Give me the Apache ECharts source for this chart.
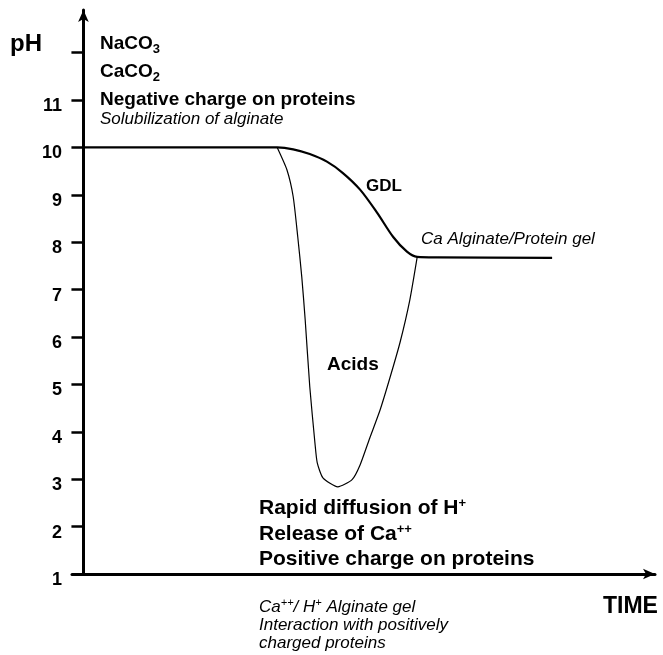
<!DOCTYPE html>
<html>
<head>
<meta charset="utf-8">
<title>pH vs time</title>
<script src="https://cdn.jsdelivr.net/npm/echarts@6/dist/echarts.min.js"></script>
<style>
  html, body { margin: 0; padding: 0; background: #fff; }
  #chart { width: 663px; height: 655px; }
</style>
</head>
<body>
<div id="chart"></div>
<script>
// pH axis
const phTicks = [2, 3, 4, 5, 6, 7, 8, 9, 10, 11, 12]
const phLabels = [1, 2, 3, 4, 5, 6, 7, 8, 9, 10, 11]

// GDL curve (time in arbitrary units)
const gdlTime = [0, 30, 33.9, 36.7, 39.6, 42.6, 45.4, 48.4, 51.4, 54.2, 56.6, 58.4, 62, 82.0]
const gdlPH = [10, 10, 10, 9.96, 9.86, 9.70, 9.46, 9.11, 8.62, 8.11, 7.80, 7.69, 7.68, 7.67]

// Acids curve
const acidTime = [33.9, 35.6, 36.7, 37.5, 38.2, 38.8, 39.6, 40.5, 40.9, 41.9, 44.5, 47.0, 48.4, 50.1, 51.9, 53.6, 55.4, 57.1, 58.4]
const acidPH = [10, 9.53, 8.96, 8.11, 7.27, 6.36, 4.95, 3.77, 3.35, 3.03, 2.84, 2.99, 3.30, 3.87, 4.46, 5.13, 5.89, 6.78, 7.69]

const chart = echarts.init(document.getElementById('chart'))

const font = 'Liberation Sans'

function label(text, x, y, size, italic, rich) {
  return {
    type: 'text',
    x: x,
    y: y,
    style: {
      text: text,
      fontFamily: font,
      fontSize: size,
      fontWeight: italic ? 'normal' : 'bold',
      fontStyle: italic ? 'italic' : 'normal',
      fill: '#000',
      align: 'left',
      verticalAlign: 'middle',
      textAlign: 'left',
      textVerticalAlign: 'middle',
      rich: rich || {}
    }
  }
}

const subRich = {
  b: { fontFamily: font, fontSize: 19, fontWeight: 'bold', color: '#000' },
  sub: { fontFamily: font, fontSize: 13, fontWeight: 'bold', color: '#000', padding: [10, 0, 0, 0] }
}
const supBig = {
  b: { fontFamily: font, fontSize: 21, fontWeight: 'bold', color: '#000' },
  sup: { fontFamily: font, fontSize: 13, fontWeight: 'bold', color: '#000', padding: [0, 0, 10, 0] }
}
const supItalic = {
  i: { fontFamily: font, fontSize: 17, fontStyle: 'italic', color: '#000' },
  sup: { fontFamily: font, fontSize: 11, fontStyle: 'italic', color: '#000', padding: [0, 0, 8, 0] }
}

const option = {
  animation: false,
  backgroundColor: '#fff',
  grid: { left: 72, right: 8, top: 10, bottom: 81 },
  xAxis: {
    type: 'value',
    min: -2,
    max: 100,
    axisLine: {
      lineStyle: { color: '#000', width: 3 },
      symbol: ['none', 'arrow'],
      symbolSize: [8, 12]
    },
    axisTick: { show: false },
    axisLabel: { show: false },
    splitLine: { show: false }
  },
  yAxis: {
    type: 'value',
    min: 1,
    max: 12.9,
    interval: 1,
    axisLine: {
      onZero: true,
      lineStyle: { color: '#000', width: 3 },
      symbol: ['none', 'arrow'],
      symbolSize: [8, 12]
    },
    axisTick: {
      customValues: phTicks,
      length: 12,
      lineStyle: { color: '#000', width: 2.5 }
    },
    axisLabel: {
      customValues: phLabels,
      margin: 10,
      color: '#000',
      fontFamily: font,
      fontSize: 18,
      fontWeight: 'bold',
      verticalAlign: 'top',
      lineHeight: 12
    },
    splitLine: { show: false }
  },
  series: [
    {
      name: 'GDL',
      type: 'line',
      data: gdlTime.map((t, i) => [t, gdlPH[i]]),
      smooth: 0.3,
      symbol: 'none',
      lineStyle: { color: '#000', width: 2.2 }
    },
    {
      name: 'Acids',
      type: 'line',
      data: acidTime.map((t, i) => [t, acidPH[i]]),
      smooth: 0.2,
      symbol: 'none',
      lineStyle: { color: '#000', width: 1.2 }
    }
  ],
  graphic: [
    label('pH', 10, 44, 24),
    label('{b|NaCO}{sub|3}', 100, 44, 19, false, subRich),
    label('{b|CaCO}{sub|2}', 100, 72, 19, false, subRich),
    label('Negative charge on proteins', 100, 100, 19),
    label('Solubilization of alginate', 100, 119, 17, true),
    label('GDL', 366, 186, 17),
    label('Ca Alginate/Protein gel', 421, 239, 17, true),
    label('Acids', 327, 365, 19),
    label('{b|Rapid diffusion of H}{sup|+}', 259, 508, 21, false, supBig),
    label('{b|Release of Ca}{sup|++}', 259, 534, 21, false, supBig),
    label('Positive charge on proteins', 259, 559, 21),
    label('{i|Ca}{sup|++}{i|/ H}{sup|+}{i| Alginate gel}', 259, 607, 17, true, supItalic),
    label('Interaction with positively', 259, 625, 17, true),
    label('charged proteins', 259, 643, 17, true),
    label('TIME', 603, 607, 23)
  ]
}

chart.setOption(option)
</script>
</body>
</html>
